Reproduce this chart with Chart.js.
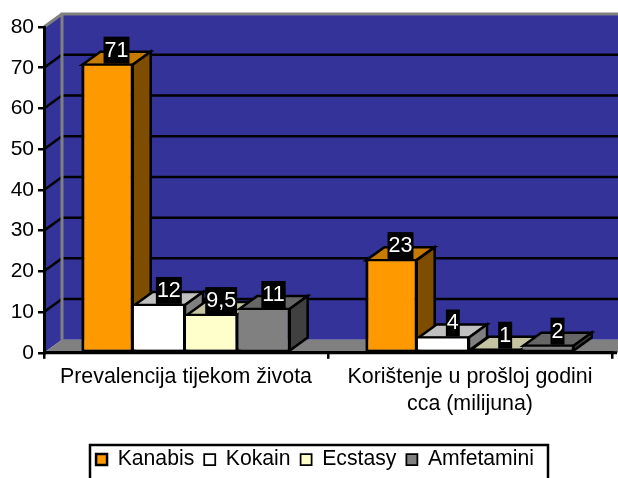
<!DOCTYPE html>
<html>
<head>
<meta charset="utf-8">
<title>Prevalencija</title>
<script src="https://cdn.jsdelivr.net/npm/chart.js@4/dist/chart.umd.min.js"></script>
<style>
  html, body { margin: 0; padding: 0; background: #fff; overflow: hidden; }
  canvas { display: block; }
</style>
</head>
<body>
<canvas id="chart" width="618" height="478"></canvas>
<script>
const categories = ["Prevalencija tijekom života", ["Korištenje u prošloj godini", "cca (milijuna)"]];
const kanabis = [71, 23];
const kokain = [12, 4];
const ecstasy = [9.5, 1];
const amfetamini = [11, 2];

// front, top and side colours of each 3D bar
const faces = [
  { front: "#ff9900", top: "#c67a00", side: "#7f4d00" },
  { front: "#ffffff", top: "#c0c0c0", side: "#808080" },
  { front: "#ffffcc", top: "#c4c4a0", side: "#808066" },
  { front: "#808080", top: "#666666", side: "#404040" },
];
const DX = 18, DY = -13;
const FONT = "'Liberation Sans', Arial, sans-serif";

function poly(ctx, pts, fill, stroke, width) {
  ctx.beginPath();
  pts.forEach((p, i) => (i ? ctx.lineTo(p[0], p[1]) : ctx.moveTo(p[0], p[1])));
  ctx.closePath();
  if (fill) { ctx.fillStyle = fill; ctx.fill(); }
  if (stroke) { ctx.strokeStyle = stroke; ctx.lineWidth = width; ctx.stroke(); }
}

// back wall, side wall and floor behind the bars
const wallsPlugin = {
  id: "walls",
  beforeDraw(chart) {
    const { ctx, chartArea: a, scales: { y } } = chart;
    const W = chart.width + 20;
    ctx.save();
    poly(ctx, [[a.left + DX, a.top + DY], [W, a.top + DY], [W, a.bottom + DY], [a.left + DX, a.bottom + DY]], "#333399");
    poly(ctx, [[a.left, a.top], [a.left + DX, a.top + DY], [a.left + DX, a.bottom + DY], [a.left, a.bottom]], "#333399");
    poly(ctx, [[a.left, a.bottom], [a.left + DX, a.bottom + DY], [W, a.bottom + DY], [W, a.bottom]], "#808080");
    y.ticks.forEach((t) => {
      if (t.value === 0 || t.value === y.max) return;
      const py = y.getPixelForValue(t.value);
      ctx.strokeStyle = "#000";
      ctx.lineWidth = 2.5;
      ctx.beginPath();
      ctx.moveTo(a.left, py);
      ctx.lineTo(a.left + DX, py + DY);
      ctx.lineTo(W, py + DY);
      ctx.stroke();
    });
    // grey frame of the walls
    ctx.strokeStyle = "#808080";
    ctx.lineWidth = 3;
    ctx.beginPath();
    ctx.moveTo(a.left + DX, a.bottom + DY);
    ctx.lineTo(a.left + DX, a.top + DY);
    ctx.lineTo(W, a.top + DY);
    ctx.moveTo(a.left, a.top);
    ctx.lineTo(a.left + DX, a.top + DY);
    ctx.stroke();
    ctx.restore();
  },
  // top and side faces go left to right, the fronts are then drawn over them
  beforeDatasetsDraw(chart) {
    const { ctx } = chart;
    ctx.save();
    ctx.lineJoin = "miter";
    chart.data.labels.forEach((_, j) => {
      chart.data.datasets.forEach((ds, i) => {
        const bar = chart.getDatasetMeta(i).data[j];
        const f = faces[i];
        const l = bar.x - bar.width / 2 + 1, r = bar.x + bar.width / 2 - 1;
        const t = bar.y + 1, b = bar.base - 1;
        poly(ctx, [[l, t], [l + DX, t + DY], [r + DX, t + DY], [r, t]], f.top, "#000", 2.5);
        poly(ctx, [[r, t], [r + DX, t + DY], [r + DX, b + DY], [r, b]], f.side, "#000", 2.5);
      });
    });
    ctx.restore();
  },
  afterDatasetsDraw(chart) {
    const { ctx, chartArea: a } = chart;
    ctx.save();
    // x axis runs a little past the last tick
    ctx.strokeStyle = "#000";
    ctx.lineWidth = 3;
    ctx.beginPath();
    ctx.moveTo(a.left, a.bottom);
    ctx.lineTo(617, a.bottom);
    ctx.stroke();
    // value labels on black
    ctx.font = "21.5px " + FONT;
    ctx.textAlign = "center";
    ctx.textBaseline = "middle";
    chart.data.datasets.forEach((ds, i) => {
      chart.getDatasetMeta(i).data.forEach((bar, j) => {
        const txt = String(ds.data[j]).replace(".", ",");
        const w = ctx.measureText(txt).width + 2;
        const cx = bar.x + DX / 2;
        ctx.fillStyle = "#000";
        ctx.fillRect(cx - w / 2, bar.y - 27, w, 27);
        ctx.fillStyle = "#fff";
        ctx.fillText(txt, cx, bar.y - 13);
      });
    });
    ctx.restore();
  },
  afterLayout(chart) {
    // the legend sits off centre, as in the original
    const lg = chart.legend;
    lg.left += 9; lg.right += 9;
    lg.top = 439; lg.bottom = 483;
  },
  afterDraw(chart) {
    const { ctx } = chart;
    ctx.save();
    ctx.strokeStyle = "#000";
    ctx.lineWidth = 2.5;
    ctx.strokeRect(90, 445, 458, 40);
    ctx.restore();
  },
};

const series = [["Kanabis", kanabis], ["Kokain", kokain], ["Ecstasy", ecstasy], ["Amfetamini", amfetamini]];

new Chart(document.getElementById("chart"), {
  type: "bar",
  data: {
    labels: categories,
    datasets: series.map(([label, data], i) => ({
      label,
      data,
      backgroundColor: faces[i].front,
      borderColor: "#000",
      borderSkipped: false,
      borderWidth: { top: 2, right: 3, bottom: 2, left: i === 0 ? 3 : 0 },
      barPercentage: 1,
      categoryPercentage: 0.737,
    })),
  },
  options: {
    responsive: false,
    animation: false,
    layout: { padding: { top: 27, right: 6, left: 0, bottom: 0 } },
    plugins: {
      tooltip: { enabled: false },
      title: { display: false },
      legend: {
        position: "bottom",
        labels: {
          color: "#000",
          font: { family: FONT, size: 21.2 },
          boxWidth: 11,
          boxHeight: 11,
          padding: 10,
        },
      },
    },
    scales: {
      x: {
        border: { color: "#000", width: 3 },
        grid: { color: "#000", lineWidth: 2.5, offset: true, drawOnChartArea: false, tickLength: 6, tickColor: "#000" },
        ticks: { color: "#000", font: { family: FONT, size: 21.4, lineHeight: 1.25 }, maxRotation: 0, minRotation: 0, autoSkip: false, padding: 5 },
        afterFit(scale) { scale.height = 84; },
      },
      y: {
        min: 0,
        max: 80,
        border: { color: "#000", width: 3 },
        grid: { color: "#000", lineWidth: 2.5, drawOnChartArea: false, tickLength: 6, tickColor: "#000" },
        ticks: { color: "#000", stepSize: 10, font: { family: FONT, size: 21 }, padding: 4 },
        afterFit(scale) { scale.width = 44; },
      },
    },
  },
  plugins: [wallsPlugin],
});
</script>
</body>
</html>
